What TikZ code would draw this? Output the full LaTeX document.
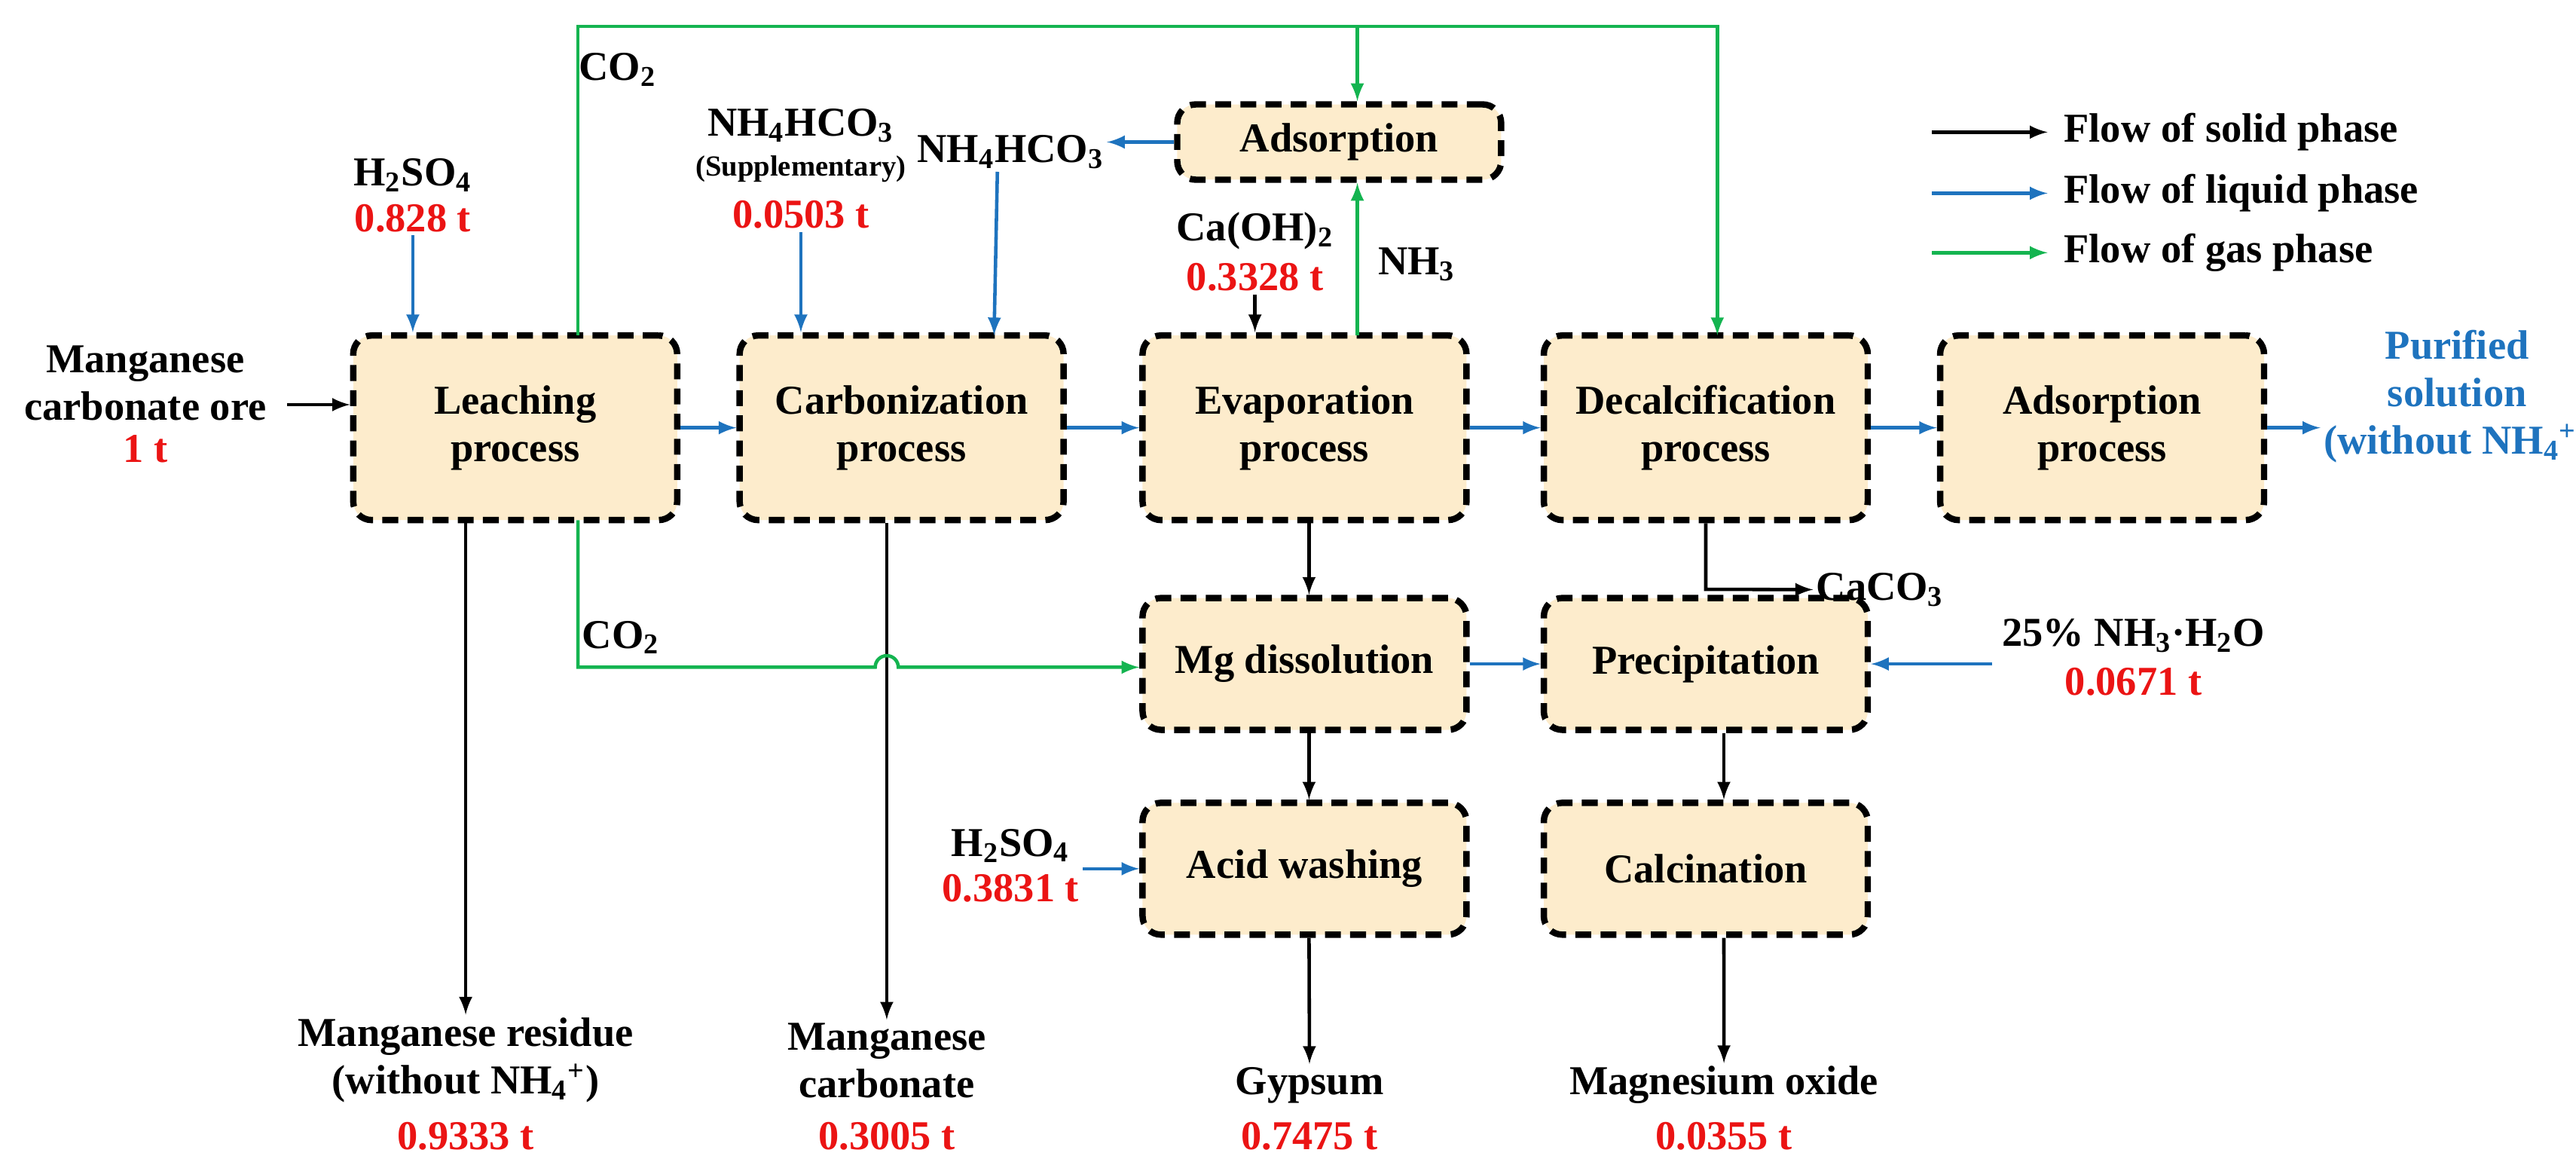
\documentclass[tikz,border=0pt]{standalone}
\usepackage{fontspec}
\setmainfont{Liberation Serif}
\usetikzlibrary{positioning}
\definecolor{boxfill}{RGB}{253,236,204}
\definecolor{liquid}{RGB}{30,115,190}
\definecolor{gas}{RGB}{20,180,80}
\definecolor{amount}{RGB}{235,20,20}
\newcommand{\figfont}{\fontsize{15.5}{18}\selectfont\bfseries}
\tikzset{
    proc/.style={draw, line width=2.4pt, dash pattern=on 6pt off 3.5pt, rounded corners=7pt,
        fill=boxfill, minimum width=43mm, align=center, font=\figfont},
    lbl/.style={align=center, font=\figfont, inner sep=1pt},
    val/.style={lbl, text=amount},
    solid/.style={-latex, line width=1.3pt, black},
    liq/.style={-latex, line width=1.3pt, liquid},
    gasf/.style={-latex, line width=1.3pt, gas},
}
\begin{document}
\begin{tikzpicture}[x=0.2192mm, y=-0.2192mm]
    \useasboundingbox (0,0) rectangle (1560,705);

    % draw process boxes
    \node[proc, minimum height=24.5mm] (leach) at (312,259) {Leaching\\process};
    \node[proc, minimum height=24.5mm] (carb) at (546,259) {Carbonization\\process};
    \node[proc, minimum height=24.5mm] (evap) at (790,259) {Evaporation\\process};
    \node[proc, minimum height=24.5mm] (decal) at (1033,259) {Decalcification\\process};
    \node[proc, minimum height=24.5mm] (adsp) at (1273,259) {Adsorption\\process};
    \node[proc, minimum height=10mm] (ads) at (811,86) {Adsorption};
    \node[proc, minimum height=17.5mm] (mg) at (790,402) {Mg dissolution};
    \node[proc, minimum height=17.5mm] (prec) at (1033,402) {Precipitation};
    \node[proc, minimum height=17.5mm] (acid) at (790,526) {Acid washing};
    \node[proc, minimum height=17.5mm] (calc) at (1033,526) {Calcination};

    % draw inputs and outputs
    \node[lbl] (ore) at (88,232) {Manganese\\carbonate ore};
    \node[val] (orev) at (88,272) {1 t};
    \node[lbl] (hso) at (250,106) {H\textsubscript{2}SO\textsubscript{4}};
    \node[val] (hsov) at (250,132) {0.828 t};
    \node[lbl] (sup) at (485,88) {NH\textsubscript{4}HCO\textsubscript{3}\\[-3pt]{\fontsize{11}{12}\selectfont(Supplementary)}};
    \node[val] (supv) at (485,130) {0.0503 t};
    \node[lbl] (nhc) at (612,92) {NH\textsubscript{4}HCO\textsubscript{3}};
    \node[lbl] (caoh) at (760,140) {Ca(OH)\textsubscript{2}};
    \node[val] (caohv) at (760,168) {0.3328 t};
    \node[lbl] (nh3) at (858,160) {NH\textsubscript{3}};
    \node[lbl, text=liquid] (pur) at (1488,240) {Purified\\solution\\(without NH\textsubscript{4}\textsuperscript{+})};
    \node[lbl, anchor=west] (caco) at (1098,357) {CaCO\textsubscript{3}};
    \node[lbl] (amm) at (1292,385) {25\% NH\textsubscript{3}·H\textsubscript{2}O};
    \node[val] (ammv) at (1292,413) {0.0671 t};
    \node[lbl] (hso2) at (612,512) {H\textsubscript{2}SO\textsubscript{4}};
    \node[val] (hso2v) at (612,538) {0.3831 t};
    \node[lbl] (res) at (282,642) {Manganese residue\\(without NH\textsubscript{4}\textsuperscript{+})};
    \node[val] (resv) at (282,688) {0.9333 t};
    \node[lbl] (mnc) at (537,642) {Manganese\\carbonate};
    \node[val] (mncv) at (537,688) {0.3005 t};
    \node[lbl] (gyp) at (793,657) {Gypsum};
    \node[val] (gypv) at (793,688) {0.7475 t};
    \node[lbl] (mgo) at (1044,657) {Magnesium oxide};
    \node[val] (mgov) at (1044,688) {0.0355 t};
    \node[lbl] (co2a) at (374,42) {CO\textsubscript{2}};
    \node[lbl] (co2b) at (376,386) {CO\textsubscript{2}};
    \coordinate (oreend) at (174,245);

    % draw solid flows
    \draw[solid] (oreend) -- (oreend -| leach.west);
    \draw[solid] (leach.south -| res.north) -- (res.north);
    \draw[solid] (carb.south -| mnc.north) -- (mnc.north);
    \draw[solid] ([xshift=0.6mm]evap.south) -- ([xshift=0.6mm]mg.north);
    \draw[solid] (caohv.south) -- (caohv.south |- evap.north);
    \draw[solid] (decal.south) -- ++(0,40) -- (caco.west);
    \draw[solid] ([xshift=0.6mm]mg.south) -- ([xshift=0.6mm]acid.north);
    \draw[solid] ([xshift=2.4mm]prec.south) -- ([xshift=2.4mm]calc.north);
    \draw[solid] ([xshift=0.6mm]acid.south) -- (gyp.north);
    \draw[solid] ([xshift=2.4mm]calc.south) -- (mgo.north);

    % draw liquid flows
    \draw[liq] (leach) -- (carb);
    \draw[liq] (carb) -- (evap);
    \draw[liq] (evap) -- (decal);
    \draw[liq] (decal) -- (adsp);
    \draw[liq] (adsp) -- (pur.west |- adsp.east);
    \draw[liq] (ads) -- (nhc.east |- ads.west);
    \draw[liq] (hsov.south) -- (hsov.south |- leach.north);
    \draw[liq] (supv.south) -- (supv.south |- carb.north);
    \draw[liq] (nhc.south) ++(-8,0) -- (602,203);
    \draw[liq] (mg) -- (prec);
    \draw[liq] (amm.west |- prec.east) ++(-4,0) -- (prec.east);
    \draw[liq] (hso2.east |- acid.west) ++(6,0) -- (acid.west);

    % draw gas flows
    \coordinate (g0) at (350,203);
    \draw[gasf] (g0) -- (350,16) -- (1040,16) -- (1040,203);
    \draw[gasf] (822,16) -- (ads.north -| 822,0);
    \draw[gasf] (822,203) -- (ads.south -| 822,0);
    \draw[gasf] (350,315) -- (350,404) -- (530,404)
        arc[start angle=180, end angle=360, radius=7] -- (mg.west |- 0,404);

    % draw legend
    \foreach \y/\s/\t in {80/solid/solid, 117/liq/liquid, 153/gasf/gas}
    {
        \draw[\s] (1170,\y) -- (1240,\y);
        \node[lbl, anchor=west] at (1248,\y) {Flow of \t\ phase};
    }
\end{tikzpicture}
\end{document}
